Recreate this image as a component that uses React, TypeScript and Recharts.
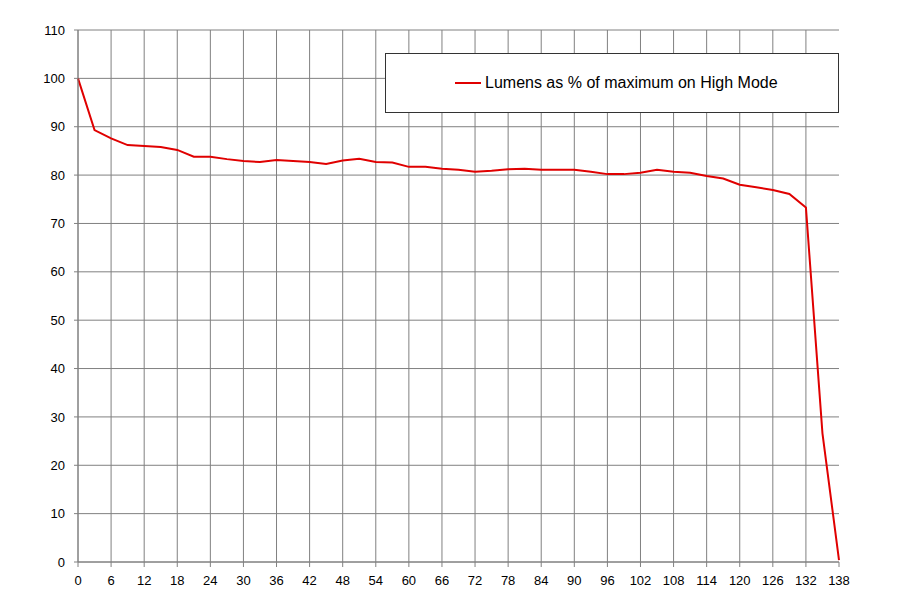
import { LineChart, Line, XAxis, YAxis, CartesianGrid } from 'recharts';

// minutes on High Mode, read every 3 min
const minutes = [
  0, 3, 6, 9, 12, 15, 18, 21, 24, 27, 30, 33, 36, 39, 42, 45, 48, 51, 54, 57,
  60, 63, 66, 69, 72, 75, 78, 81, 84, 87, 90, 93, 96, 99, 102, 105, 108, 111,
  114, 117, 120, 123, 126, 129, 132, 135, 138,
];
const lumensPct = [
  100, 89.3, 87.6, 86.2, 86.0, 85.8, 85.2, 83.8, 83.8, 83.3, 82.9, 82.7, 83.1,
  82.9, 82.7, 82.3, 83.0, 83.4, 82.7, 82.6, 81.7, 81.7, 81.3, 81.1, 80.7, 80.9,
  81.2, 81.3, 81.1, 81.1, 81.1, 80.7, 80.2, 80.2, 80.5, 81.1, 80.7, 80.5, 79.8,
  79.3, 78.0, 77.5, 76.9, 76.1, 73.3, 26.6, 0.4,
];
const xTicks = [0, 6, 12, 18, 24, 30, 36, 42, 48, 54, 60, 66, 72, 78, 84, 90, 96, 102, 108, 114, 120, 126, 132, 138];
const yTicks = [0, 10, 20, 30, 40, 50, 60, 70, 80, 90, 100, 110];
const seriesName = 'Lumens as % of maximum on High Mode';

const data = minutes.map((m, i) => ({ min: m, pct: lumensPct[i] }));

const FONT = '"Liberation Sans", Arial, sans-serif';
const GRID = '#808080';

function LegendBox() {
  return (
    <div
      style={{
        position: 'absolute',
        left: 385,
        top: 53,
        width: 452,
        height: 58,
        border: '1px solid #333',
        background: '#fff',
        display: 'flex',
        alignItems: 'center',
        fontFamily: FONT,
        fontSize: 16,
        color: '#000',
      }}
    >
      <span style={{ display: 'inline-block', width: 26, height: 2, background: '#e00000', marginLeft: 69, marginRight: 4 }} />
      <span>{seriesName}</span>
    </div>
  );
}

export default function App() {
  return (
    <div style={{ position: 'absolute', left: 0, top: 0, width: 902, height: 614, background: '#fff' }}>
      <LineChart width={902} height={614} data={data} margin={{ top: 30, right: 63, bottom: 22, left: 38 }}>
        <CartesianGrid
          stroke={GRID}
          strokeWidth={1}
          verticalValues={xTicks.slice(0, -1)}
          horizontalValues={yTicks}
        />
        <XAxis
          dataKey="min"
          type="number"
          domain={[0, 138]}
          ticks={xTicks}
          interval={0}
          height={30}
          stroke={GRID}
          tickSize={5}
          tickMargin={9}
          tick={{ fill: '#000', fontSize: 13, fontFamily: FONT }}
        />
        <YAxis
          type="number"
          domain={[0, 110]}
          ticks={yTicks}
          interval={0}
          width={40}
          stroke={GRID}
          tickSize={4}
          tickMargin={9}
          tick={{ fill: '#000', fontSize: 13, fontFamily: FONT }}
        />
        <Line
          dataKey="pct"
          name={seriesName}
          stroke="#e00000"
          strokeWidth={2}
          dot={false}
          isAnimationActive={false}
        />
      </LineChart>
      <LegendBox />
    </div>
  );
}
